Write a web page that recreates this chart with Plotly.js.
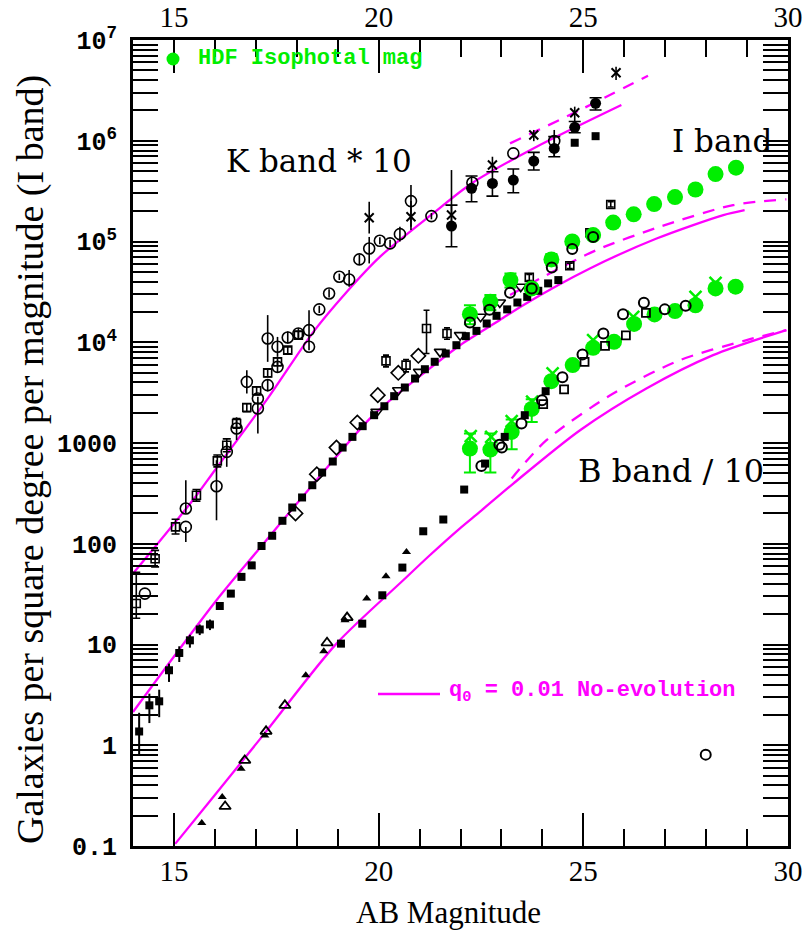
<!DOCTYPE html>
<html>
<head>
<meta charset="utf-8">
<script src="https://cdn.plot.ly/plotly-3.0.1.min.js"></script>
<style>html,body{margin:0;padding:0;background:#fff;}#chart{width:807px;height:933px;}</style>
</head>
<body>
<div id="chart"></div>
<script>
// ---------------- DATA ----------------
// K band * 10 (black)
const kCircX = [14.29, 15.29, 15.29, 16.04, 16.29, 16.53, 16.78, 17.05, 17.05, 17.29, 17.29, 17.53, 17.53, 17.78, 18.04, 18.30, 18.30, 18.55, 18.79, 19.04, 19.28, 19.53, 19.77, 20.03, 20.28, 20.52, 20.79, 21.29, 22.29, 23.29, 24.29];
const kCircY = [32, 224, 147, 372, 816, 1393, 4045, 2203, 2767, 10900, 3750, 9020, 5700, 11150, 12230, 13200, 9020, 21200, 30500, 44700, 42000, 66400, 85300, 101600, 95700, 118300, 251800, 178700, 383000, 750000, 993000];
const kCircHi = [null, 427, null, 675, 1000, 1800, 5280, 2870, null, 18600, 4300, 11300, 6500, 12800, 13800, 20800, null, 23000, 33500, 48000, 52000, 74000, 111000, 110000, 104000, 140000, 363000, 192000, null, null, 1280000];
const kCircLo = [null, 200, 104, 171, 580, 1070, 3100, 1242, null, 6390, 3250, 7160, 5000, 9700, 10800, 8350, null, 19500, 27800, 41500, 35500, 59000, 60600, 94000, 88000, 100000, 130000, 166000, null, null, 694000];

const kSqX = [14.08, 14.54, 15.04, 15.55, 16.06, 16.29, 16.53, 16.78, 17.02, 17.29, 17.53, 17.78, 18.04];
const kSqY = [25.5, 71, 147, 303, 664, 950, 1563, 2250, 3300, 4970, 6400, 8350, 11770];
const kSqHi = [52, 86, 175, 345, 760, 1100, 1750, 2450, 3600, 5400, 7000, 9000, 12800];
const kSqLo = [18.2, 58.9, 125, 265, 580, 820, 1400, 2050, 3000, 4550, 5850, 7700, 10800];

const kXX = [19.77, 20.79, 21.78, 22.78, 23.79, 24.79, 25.80];
const kXY = [171800, 176000, 182900, 574000, 1140000, 1900000, 4740000];
const kXHi = [248000, 251800, 512000, 694000, 1280000, 2180000, 5430000];
const kXLo = [120000, 140000, 150000, 474000, 990000, 1550000, 4000000];

const kFCX = [21.78, 22.27, 22.78, 23.29, 23.79, 24.29, 24.79, 25.30];
const kFCY = [142200, 337000, 377000, 407000, 628000, 839000, 1360000, 2350000];
const kFCHi = [229500, 447000, 492000, 524000, 767000, 1100000, 1550000, 2670000];
const kFCLo = [88600, 248000, 282000, 305000, 512000, 694000, 1200000, 2020000];

const kFSqX = [24.79, 25.30];
const kFSqY = [955000, 1110000];

// I band (black + green HDF)
const iFSqX = [14.15, 14.40, 14.64, 14.88, 15.13, 15.39, 15.63, 15.88, 16.12, 16.39, 16.65, 16.90, 17.14, 17.40, 17.65, 17.89, 18.13, 18.38, 18.62, 18.88, 19.12, 19.36, 19.61, 19.89, 20.14, 20.38, 20.64, 20.89, 21.13, 21.37, 21.64, 21.90, 22.13, 22.39, 22.64, 22.88, 23.14, 23.39, 23.63, 23.90, 24.14, 24.39];
const iFSqY = [1.37, 2.49, 2.73, 5.55, 8.24, 11.0, 14.1, 15.8, 24.1, 32, 46.9, 61, 95, 120, 169, 229, 288, 381, 509, 655, 901, 1150, 1469, 1888, 2317, 2917, 3556, 4365, 5400, 6400, 7730, 9350, 11500, 12970, 15350, 18300, 21200, 24800, 28200, 32400, 38400, 41400];
const iFSqHi = [2.1, 3.25, 3.56, 6.46, 9.6, 12.5, 15.8, 17.7];
const iFSqLo = [0.8, 1.66, 1.9, 4.25, 6.7, 9.3, 12.4, 13.9];

const iDiaX = [17.97, 18.49, 18.97, 19.48, 19.98, 20.48, 20.97];
const iDiaY = [200, 490, 900, 1597, 2985, 4970, 7330];

const iTriX = [19.95, 20.48, 20.99, 21.50, 21.99, 22.49, 22.96, 23.47];
const iTriY = [2037, 3340, 5080, 8030, 11770, 17900, 24800, 35500];

const iOSqX = [20.18, 20.67, 21.17, 21.67, 22.68, 23.68, 24.67, 25.16, 25.67];
const iOSqY = [6540, 5930, 13700, 12200, 23340, 44000, 57400, 122000, 233000];
const iOSqHi = [7450, 6750, 20800, 13900, 25000, 47000, 61000, 130000, 248000];
const iOSqLo = [5700, 5080, 7740, 10700, 21800, 41000, 54000, 114000, 220000];

const iOCircX = [22.23, 22.71, 23.21, 23.74, 24.23, 24.73, 25.24];
const iOCircY = [15700, 21000, 31000, 34200, 55300, 84100, 111000];

const iGreenX = [22.23, 22.73, 23.22, 23.74, 24.22, 24.73, 25.24, 25.73, 26.23, 26.73, 27.24, 27.74, 28.23, 28.73];
const iGreenY = [19000, 25200, 41400, 34200, 66400, 100000, 115800, 154000, 186000, 235000, 276000, 328000, 467000, 540000];
const iGreenHi = [23300, 29400, 48200, 37500, 75000];
const iGreenLo = [15100, 20800, 35000, 31000, 58000];

// B band / 10
const bFTriX = [15.68, 16.18, 16.64, 17.22, 18.22, 18.66, 19.18, 19.71, 20.18, 20.68];
const bFTriY = [0.169, 0.306, 0.585, 1.253, 4.94, 8.55, 17.4, 28.6, 47.5, 83];
const bOTriX = [16.25, 16.73, 17.25, 17.71, 18.74, 19.23];
const bOTriY = [0.247, 0.708, 1.374, 2.49, 10.4, 18.5];
const bFSqX = [19.08, 19.60, 20.09, 20.58, 21.09, 21.58, 22.09, 22.60, 23.08, 23.57, 24.08];
const bFSqY = [10.2, 16.1, 30.8, 58, 133, 174, 345, 625, 1150, 1888, 3266];
const bOCircX = [22.51, 22.95, 23.01, 23.49, 23.99, 24.49, 24.98, 25.49, 25.97, 26.48, 26.99, 27.50, 27.99];
const bOCircY = [590, 960, 900, 1563, 2660, 4500, 7550, 12200, 19000, 24600, 21200, 23000, 0.807];
const bOSqX = [24.02, 24.53, 25.03, 25.53, 26.04, 26.53];
const bOSqY = [2430, 3410, 6400, 9200, 11700, 19600];
const bGreenX = [22.23, 22.73, 23.25, 23.74, 24.22, 24.74, 25.24, 25.75, 26.24, 26.74, 27.24, 27.74, 28.23, 28.72];
const bGreenY = [881, 861, 1288, 2180, 4110, 5930, 8810, 10090, 15200, 18900, 20400, 23300, 34200, 35600];
const bGreenHi = [1242, 1242, 1710, 2720];
const bGreenLo = [509, 509, 867, 1620];
const bGreenXX = [22.25, 22.75, 23.25, 23.75, 24.25, 25.24, 26.22, 27.74, 28.23];
const bGreenXY = [1170, 1150, 1650, 2570, 4900, 10500, 17900, 28200, 38900];

// q0 = 0.01 no-evolution models (solid) and dashed variants
const kModX = [14.0, 15.46, 16.0, 17.3, 18.42, 19.22, 20.03, 21.33, 22.27, 23.86, 25.93];
const kModY = [50.6, 270, 537, 2800, 12900, 31600, 70400, 190000, 377000, 871000, 2260000];
const kDashX = [23.21, 24.9, 26.58];
const kDashY = [942000, 2000000, 4420000];
const iModX = [14.0, 16.04, 17.14, 18.38, 19.87, 21.25, 21.99, 22.96, 23.53, 25.16, 26.79, 28.42, 28.94];
const iModY = [2.14, 27.5, 95, 381, 1888, 5500, 9350, 16600, 23340, 54000, 107000, 183000, 205000];
const iDashX = [23.21, 24.10, 25.32, 26.87, 28.66, 29.96];
const iDashY = [29400, 46400, 82200, 140000, 230000, 262000];
const bModX = [15.03, 15.96, 17.22, 18.97, 20.60, 21.25, 21.98, 22.47, 23.29, 24.92, 26.54, 28.17, 29.96];
const bModY = [0.105, 0.306, 1.32, 10.2, 43.4, 76.9, 141.6, 207, 396, 1340, 3480, 7450, 13200];
const bDashX = [23.25, 24.10, 25.73, 27.36, 28.99, 29.96];
const bDashY = [444, 1066, 3100, 6640, 10500, 13200];

// ticks
const xTickVals = [15, 20, 25, 30];
const yTickVals = [0.1, 1, 10, 100, 1000, 1e4, 1e5, 1e6, 1e7];
const yTickText = ['0.1', '1', '10', '100', '1000', '10<sup>4</sup>', '10<sup>5</sup>', '10<sup>6</sup>', '10<sup>7</sup>'];

// ---------------- BUILD ----------------
const BLACK = '#000000', GREEN = '#00ee00', MAG = '#ff00ff';

function errs(y, hi, lo, color, width, thick) {
  if (!hi) return undefined;
  const plus = y.map((v, i) => (hi[i] == null ? NaN : hi[i] - v));
  const minus = y.map((v, i) => (lo[i] == null ? NaN : v - lo[i]));
  return {type: 'data', symmetric: false, array: plus, arrayminus: minus,
          color: color, thickness: thick || 1.6, width: width};
}
function pts(x, y, symbol, size, color, opts) {
  opts = opts || {};
  const open = symbol.indexOf('open') >= 0;
  const t = {
    type: 'scatter', mode: 'markers', x: x, y: y, hoverinfo: 'skip', showlegend: false,
    marker: {symbol: symbol, size: size, color: color,
             line: {color: color, width: opts.lw || (open ? 1.6 : 0)}}
  };
  if (opts.hi) t.error_y = errs(y, opts.hi, opts.lo, color, opts.cap == null ? 4 : opts.cap, opts.thick);
  return t;
}
function line(x, y, dash) {
  return {type: 'scatter', mode: 'lines', x: x, y: y, hoverinfo: 'skip', showlegend: false,
          line: {color: MAG, width: 2.3, dash: dash ? '12px,9px' : 'solid', shape: 'spline', smoothing: 0.8}};
}

const traces = [
  line(kModX, kModY), line(kDashX, kDashY, true),
  line(iModX, iModY), line(iDashX, iDashY, true),
  line(bModX, bModY), line(bDashX, bDashY, true),
  // K
  pts(kCircX, kCircY, 'circle-open', 11, BLACK, {hi: kCircHi, lo: kCircLo, cap: 0}),
  pts(kSqX, kSqY, 'square-open', 8, BLACK, {hi: kSqHi, lo: kSqLo, cap: 4}),
  pts(kXX, kXY, 'x-thin-open', 9, BLACK, {hi: kXHi, lo: kXLo, cap: 0, lw: 2}),
  pts(kFCX, kFCY, 'circle', 11, BLACK, {hi: kFCHi, lo: kFCLo, cap: 6}),
  pts(kFSqX, kFSqY, 'square', 8, BLACK),
  // I
  pts(iFSqX, iFSqY, 'square', 8, BLACK, {hi: iFSqHi, lo: iFSqLo, cap: 0, thick: 2}),
  pts(iDiaX, iDiaY, 'diamond-open', 11, BLACK),
  pts(iTriX, iTriY, 'triangle-down-open', 10, BLACK),
  pts(iOSqX, iOSqY, 'square-open', 8, BLACK, {hi: iOSqHi, lo: iOSqLo, cap: 3}),
  pts(iGreenX, iGreenY, 'circle', 16, GREEN, {hi: iGreenHi, lo: iGreenLo, cap: 6, thick: 2}),
  pts(iOCircX, iOCircY, 'circle-open', 10, BLACK, {lw: 2}),
  // B
  pts(bGreenX, bGreenY, 'circle', 16, GREEN, {hi: bGreenHi, lo: bGreenLo, cap: 6, thick: 2}),
  pts(bGreenXX, bGreenXY, 'x-thin-open', 12, GREEN, {lw: 2.5}),
  pts(bFTriX, bFTriY, 'triangle-up', 8, BLACK),
  pts(bOTriX, bOTriY, 'triangle-up-open', 10, BLACK, {lw: 1.8}),
  pts(bFSqX, bFSqY, 'square', 8, BLACK),
  pts(bOCircX, bOCircY, 'circle-open', 10, BLACK, {lw: 2}),
  pts(bOSqX, bOSqY, 'square-open', 8, BLACK, {lw: 1.8}),
  // carrier for top axis labels
  {type: 'scatter', mode: 'markers', x: [14, 30], y: [1, 1], xaxis: 'x2', yaxis: 'y',
   marker: {opacity: 0}, hoverinfo: 'skip', showlegend: false}
];

// minor ticks on log axis
const yMinor = [];
for (let d = -1; d < 7; d++) for (let m = 2; m <= 9; m++) yMinor.push(m * Math.pow(10, d));

const W = 807, H = 933, L = 133, R = 19, T = 40, B = 87;
const px = (x) => (x - L) / (W - L - R);
const py = (y) => (H - B - y) / (H - T - B);

const tickFontX = {family: 'Liberation Serif', size: 29, color: BLACK};
const layout = {
  width: W, height: H,
  margin: {l: L, r: R, t: T, b: B, pad: 0},
  paper_bgcolor: '#ffffff', plot_bgcolor: '#ffffff',
  showlegend: false,
  xaxis: {
    range: [14, 30], showgrid: false, zeroline: false,
    showline: true, linecolor: BLACK, linewidth: 3, mirror: 'allticks',
    ticks: 'inside', ticklen: 33, tickwidth: 2, tickcolor: BLACK,
    tickmode: 'array', tickvals: xTickVals, tickfont: tickFontX, ticklabelstandoff: -3,
    minor: {dtick: 1, tick0: 14, ticks: 'inside', ticklen: 17, tickwidth: 2, tickcolor: BLACK, showgrid: false}
  },
  xaxis2: {
    range: [14, 30], overlaying: 'x', side: 'top', showgrid: false, zeroline: false,
    showline: false, ticks: '', tickmode: 'array', tickvals: xTickVals, tickfont: tickFontX,
    ticklabelstandoff: 6
  },
  yaxis: {
    type: 'log', range: [-1, 7], showgrid: false, zeroline: false,
    showline: true, linecolor: BLACK, linewidth: 3, mirror: 'allticks',
    ticks: 'inside', ticklen: 25, tickwidth: 2, tickcolor: BLACK,
    tickmode: 'array', tickvals: yTickVals, ticktext: yTickText,
    tickfont: {family: 'Liberation Mono', size: 25, color: BLACK, weight: 'bold'},
    ticklabelstandoff: 8,
    minor: {tickmode: 'array', tickvals: yMinor, ticks: 'inside', ticklen: 13, tickwidth: 2, tickcolor: BLACK, showgrid: false}
  },
  shapes: [
    {type: 'circle', xref: 'paper', yref: 'paper', x0: px(166.5), x1: px(179.5), y0: py(65.5), y1: py(52.5),
     fillcolor: GREEN, line: {width: 0}},
    {type: 'line', xref: 'paper', yref: 'paper', x0: px(378), x1: px(440), y0: py(694), y1: py(694),
     line: {color: MAG, width: 2.5}}
  ],
  annotations: [
    {text: 'HDF Isophotal mag', xref: 'paper', yref: 'paper', x: px(196), y: py(59), xanchor: 'left', yanchor: 'middle',
     showarrow: false, font: {family: 'Liberation Mono', size: 22, color: GREEN, weight: 'bold'}},
    {text: 'q<sub>0</sub> = 0.01 No-evolution', xref: 'paper', yref: 'paper', x: px(447), y: py(692), xanchor: 'left', yanchor: 'middle',
     showarrow: false, font: {family: 'Liberation Mono', size: 22, color: MAG, weight: 'bold'}},
    {text: 'K band * 10', xref: 'paper', yref: 'paper', x: px(319), y: py(161), xanchor: 'center', yanchor: 'middle',
     showarrow: false, font: {family: 'DejaVu Serif', size: 31, color: BLACK}},
    {text: 'I band', xref: 'paper', yref: 'paper', x: px(722), y: py(141), xanchor: 'center', yanchor: 'middle',
     showarrow: false, font: {family: 'DejaVu Serif', size: 31, color: BLACK}},
    {text: 'B band / 10', xref: 'paper', yref: 'paper', x: px(671), y: py(471), xanchor: 'center', yanchor: 'middle',
     showarrow: false, font: {family: 'DejaVu Serif', size: 32, color: BLACK}},
    {text: 'AB Magnitude', xref: 'paper', yref: 'paper', x: px(448), y: py(912), xanchor: 'center', yanchor: 'middle',
     showarrow: false, font: {family: 'Liberation Serif', size: 31, color: BLACK}},
    {text: 'Galaxies per square degree per magnitude (I band)', xref: 'paper', yref: 'paper', x: px(30), y: py(460),
     xanchor: 'center', yanchor: 'middle', textangle: -90,
     showarrow: false, font: {family: 'Liberation Serif', size: 38, color: BLACK}}
  ]
};

Plotly.newPlot('chart', traces, layout, {displayModeBar: false, staticPlot: true});
</script>
</body>
</html>
